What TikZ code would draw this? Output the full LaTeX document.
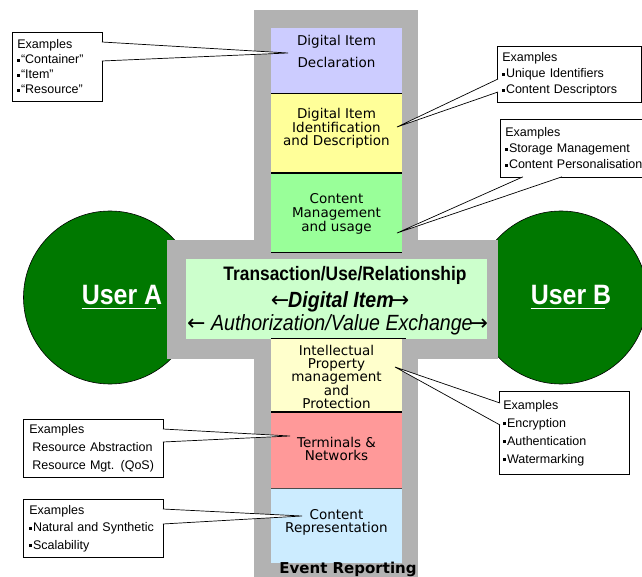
\documentclass[tikz,border=0pt]{standalone}
\usepackage{fontspec}
\setmainfont{Liberation Sans}
\newfontfamily\labfont{DejaVu Sans}
\newfontfamily\narrowsans[FakeStretch=0.89]{Liberation Sans}
\usetikzlibrary{calc}

\definecolor{crossgray}{HTML}{B2B2B2}
\definecolor{declcol}{HTML}{CCCCFF}
\definecolor{identcol}{HTML}{FFFF99}
\definecolor{mgmtcol}{HTML}{99FF99}
\definecolor{transcol}{HTML}{CCFFCC}
\definecolor{ipmpcol}{HTML}{FFFFCC}
\definecolor{termcol}{HTML}{FF9999}
\definecolor{reprcol}{HTML}{CCECFF}
\definecolor{usergreen}{HTML}{007800}

% small square bullet for the example lists
\newcommand\sqbul{\rule[2pt]{3pt}{3pt}\hspace{0.6pt}}
% arrows of the exchange lines
\newcommand\larr{{\labfont\upshape\mdseries ←}}
\newcommand\rarr{{\labfont\upshape\mdseries →}}
\newcommand\nohyph{\hyphenpenalty=10000\relax}

\tikzset{
  user/.style={circle, fill=usergreen, draw=black, line width=0.6pt,
    minimum size=173pt, inner sep=0pt},
  userlab/.style={text=white, anchor=base, inner sep=0pt,
    font=\narrowsans\bfseries\fontsize{28}{28}\selectfont},
  lab/.style={align=center, inner sep=0pt,
    font=\labfont\fontsize{13.5}{#1}\selectfont},
  lab/.default=14,
  layersep/.style={line width=1pt, draw=black},
  exbox/.style={draw=black, line width=0.8pt, fill=white, anchor=north west,
    inner xsep=5pt, inner ysep=0pt, align=left,
    font=\nohyph\fontsize{12.5}{#1}\selectfont},
  exbox/.default=15,
  callout/.style={draw=black, line width=0.7pt, fill=white},
  underl/.style={white, line width=1.4pt},
}

\begin{document}
\begin{tikzpicture}[x=1pt,y=-1pt]
\useasboundingbox (0,0) rectangle (642,577);
\fill[white] (0,0) rectangle (642,577);
\clip (0,0) rectangle (642,577);

% the two users
\node[user] (userA) at (110,297.5) {};
\node[user] (userB) at (561,297.5) {};

% grey cross
\fill[crossgray] (254,10) rectangle (418,577);
\fill[crossgray] (167,240) rectangle (498,359);

% layers of the framework
\fill[declcol]  (271,28)  rectangle (402,94);
\fill[identcol] (271,94)  rectangle (402,173);
\fill[mgmtcol]  (271,173) rectangle (402,253);
\fill[transcol] (186,259) rectangle (487,339);
\fill[ipmpcol]  (271,338) rectangle (402,412);
\fill[termcol]  (271,412) rectangle (402,488);
\fill[reprcol]  (271,488) rectangle (402,563);

\draw[layersep] (271,94) -- (402,94);
\draw[layersep, line width=1.6pt] (271,173) -- (402,173);
\draw[layersep] (271,253) -- (402,253);
\draw[layersep] (271,338) -- (406,338);
\draw[layersep, line width=1.2pt] (271,412) -- (402,412);
\draw[layersep, line width=0.8pt, draw=black!70] (271,488) -- (402,488);

% layer labels
\node[lab=22]   (decl)  at (336.5,51)    {Digital Item\\Declaration};
\node[lab=13.5] (ident) at (336.5,128.5) {Digital Item\\Identification\\and Description};
\node[lab=14]   (mgmt)  at (336.5,213.5) {Content\\Management\\and usage};
\node[lab=13.2] (ipmp)  at (336.5,376.8) {Intellectual\\Property\\management\\and\\Protection};
\node[lab=13]   (term)  at (336.5,448.5) {Terminals \&\\Networks};
\node[lab=12.5] (repr)  at (336.5,522.5) {Content\\Representation};
\node[anchor=base, inner sep=0pt, font=\labfont\bfseries\fontsize{15}{15}\selectfont]
  (events) at (348,573.5) {Event Reporting};

% transaction block
\begin{scope}
\clip (186,259) rectangle (487,339);
\node[anchor=base, inner sep=0pt, font=\narrowsans\bfseries\fontsize{19.5}{20}\selectfont]
  (trans) at (345,280) {Transaction/Use/Relationship};
\node[anchor=base, inner sep=0pt, font=\narrowsans\bfseries\itshape\fontsize{22}{22}\selectfont]
  (ditem) at (340,307) {\larr\kern-1pt Digital Item\kern-3pt\rarr};
\node[anchor=base west, inner sep=0pt, font=\narrowsans\itshape\fontsize{22}{22}\selectfont]
  (authz) at (187,330) {\larr\ Authorization/Value Exchange\kern-3pt\rarr};
\end{scope}

% user names
\node[userlab] (userAlab) at (122,304.3) {User A};
\node[userlab] (userBlab) at (571,304.3) {User B};
\draw[underl] ([yshift=-4pt]userAlab.base west) -- ([xshift=-6pt,yshift=-4pt]userAlab.base east);
\draw[underl] ([yshift=-4pt]userBlab.base west) -- ([xshift=-6pt,yshift=-4pt]userBlab.base east);

% example boxes
\node[exbox=15, text width=80pt, minimum height=69pt] (exDecl) at (12,32)
  {Examples\\\sqbul “Container”\\\sqbul “Item”\\\sqbul “Resource”};
\node[exbox=16, text width=134pt, minimum height=56pt] (exIdent) at (497,46)
  {Examples\\\sqbul Unique Identifiers\\\sqbul Content Descriptors};
\node[exbox=16, text width=160pt, minimum height=58pt] (exMgmt) at (500,119)
  {Examples\\\sqbul Storage Management\\\sqbul Content Personalisation};
\node[exbox=18, inner xsep=4pt, text width=122pt, minimum height=83pt] (exIpmp) at (499,391)
  {Examples\\\sqbul Encryption\\\sqbul Authentication\\\sqbul Watermarking};
\node[exbox=18, inner xsep=6pt, text width=128pt, minimum height=58pt] (exTerm) at (23,419)
  {Examples\\\hspace*{3pt}Resource Abstraction\\\hspace*{3pt}Resource Mgt. (QoS)};
\node[exbox=17.5, inner xsep=6pt, text width=128pt, minimum height=58pt] (exRepr) at (23,499)
  {Examples\\\sqbul Natural and Synthetic\\\sqbul Scalability};

% callout tips inside the layers
\coordinate (tipDecl)  at (288,53);
\coordinate (tipIdent) at (397,127);
\coordinate (tipMgmt)  at (397,233);
\coordinate (tipIpmp)  at (395,367);
\coordinate (tipTerm)  at (290,436);
\coordinate (tipRepr)  at (302,516);

% callouts
\path[callout] ($(exDecl.north east)+(-1,10)$) -- (tipDecl) -- ($(exDecl.north east)+(-1,29)$);
\path[callout] ($(exIdent.north west)+(1,33)$) -- (tipIdent) -- ($(exIdent.north west)+(1,46)$);
\path[callout] ($(exMgmt.south west)+(23,-1)$) -- (tipMgmt) -- ($(exMgmt.south west)+(62,-1)$);
\path[callout] ($(exIpmp.north west)+(1,12)$) -- (tipIpmp) -- ($(exIpmp.north west)+(1,34)$);
\path[callout] ($(exTerm.north east)+(-1,10)$) -- (tipTerm) -- ($(exTerm.north east)+(-1,23)$);
\path[callout] ($(exRepr.north east)+(-1,10)$) -- (tipRepr) -- ($(exRepr.north east)+(-1,25)$);
\end{tikzpicture}
\end{document}
